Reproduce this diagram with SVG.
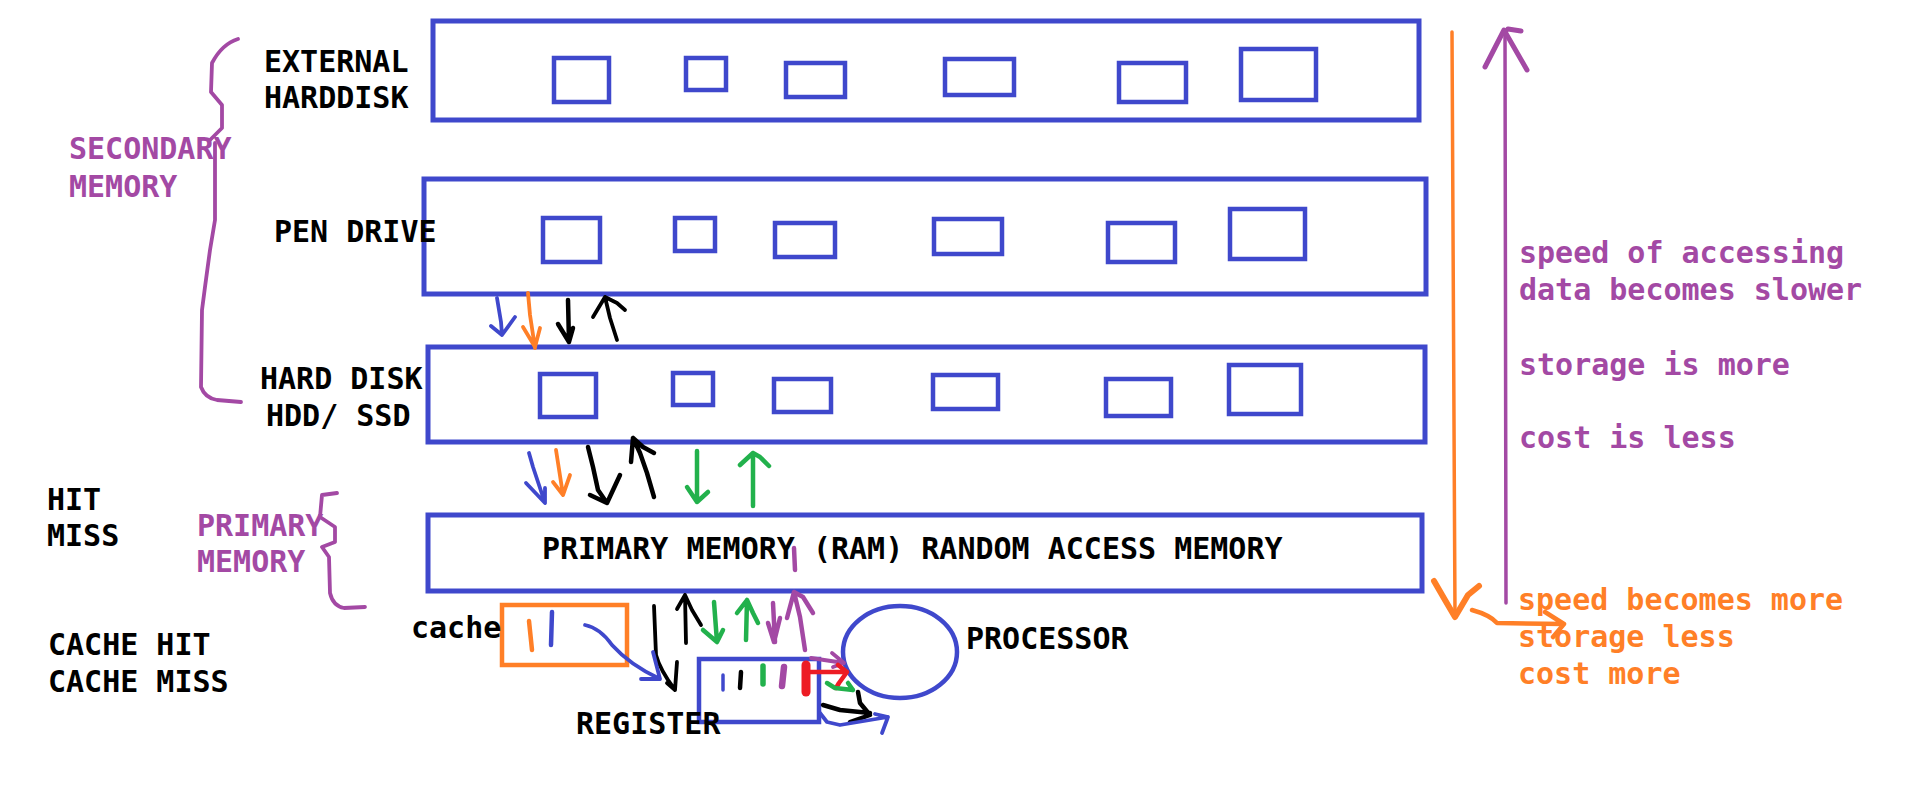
<svg xmlns="http://www.w3.org/2000/svg" width="1914" height="806" viewBox="0 0 1914 806">
<style>
text{font-family:"DejaVu Sans Mono","Liberation Mono",monospace;font-weight:bold;font-size:30px;}
.k{fill:#000}
.p{fill:#A349A4}
.o{fill:#FF7F27}
.box{fill:none;stroke:#3F48CC;stroke-width:5}
.cell{fill:none;stroke:#3F48CC;stroke-width:4.5}
.s{fill:none;stroke-linecap:round;stroke-linejoin:round;stroke-width:3.8}
.bl{stroke:#3F48CC}
.or{stroke:#FF7F27}
.bk{stroke:#000}
.gr{stroke:#22B14C}
.pu{stroke:#A349A4}
.rd{stroke:#ED1C24}
</style>
<rect width="1914" height="806" fill="#fff"/>

<g id="external-harddisk">
<rect class="box" x="433" y="21" width="986" height="99"/>
<rect class="cell" x="554" y="58" width="55" height="44"/>
<rect class="cell" x="686" y="58" width="40" height="32"/>
<rect class="cell" x="786" y="63" width="59" height="34"/>
<rect class="cell" x="945" y="59" width="69" height="36"/>
<rect class="cell" x="1119" y="63" width="67" height="39"/>
<rect class="cell" x="1241" y="49" width="75" height="51"/>
<text class="k" x="264" y="72">EXTERNAL</text>
<text class="k" x="264" y="108">HARDDISK</text>
</g>

<g id="pen-drive">
<rect class="box" x="424" y="179" width="1002" height="115"/>
<rect class="cell" x="543" y="218" width="57" height="44"/>
<rect class="cell" x="675" y="218" width="40" height="33"/>
<rect class="cell" x="775" y="223" width="60" height="34"/>
<rect class="cell" x="934" y="219" width="68" height="35"/>
<rect class="cell" x="1108" y="223" width="67" height="39"/>
<rect class="cell" x="1230" y="209" width="75" height="50"/>
<text class="k" x="274" y="242">PEN DRIVE</text>
</g>

<g id="hard-disk">
<rect class="box" x="428" y="347" width="997" height="95"/>
<rect class="cell" x="540" y="374" width="56" height="43"/>
<rect class="cell" x="673" y="373" width="40" height="32"/>
<rect class="cell" x="774" y="379" width="57" height="33"/>
<rect class="cell" x="933" y="375" width="65" height="34"/>
<rect class="cell" x="1106" y="379" width="65" height="37"/>
<rect class="cell" x="1229" y="365" width="72" height="49"/>
<text class="k" x="260" y="389">HARD DISK</text>
<text class="k" x="266" y="426">HDD/ SSD</text>
</g>

<g id="primary-memory">
<rect class="box" x="428" y="515" width="994" height="76"/>
<text class="k" x="542" y="559">PRIMARY MEMORY (RAM) RANDOM ACCESS MEMORY</text>
</g>

<g id="cache">
<rect fill="none" stroke="#FF7F27" stroke-width="4.5" x="502" y="605" width="125" height="60"/>
<path class="s or" d="M529,621 L532,650" style="stroke-width:4.5"/>
<path class="s bl" d="M552,612 L551,645" style="stroke-width:4.5"/>
<text class="k" x="411" y="638">cache</text>
</g>

<g id="register">
<rect class="cell" x="699" y="659" width="120" height="63"/>
<path class="s bl" d="M723,675 L723,690" style="stroke-width:3.5"/>
<path class="s bk" d="M741,672 L740,688" style="stroke-width:4.5"/>
<path class="s gr" d="M763,666 L763,684" style="stroke-width:5.5"/>
<path class="s pu" d="M784,667 L782,686" style="stroke-width:6.5"/>
<path class="s rd" d="M806,665 L806,692" style="stroke-width:9"/>
<text class="k" x="576" y="734">REGISTER</text>
</g>

<g id="processor">
<ellipse cx="900" cy="652" rx="57" ry="46" fill="none" stroke="#3F48CC" stroke-width="4.5"/>
<text class="k" x="966" y="649">PROCESSOR</text>
</g>

<g id="secondary-memory-label">
<path class="s pu" d="M238,39 Q222,44 212,63 L211,92 L222,105 L222,128 L210,140 M215,143 L215,220 L210,250 L205,287 L202,310 L201,387 Q205,398 217,400 L241,402"/>
<text class="p" x="69" y="159">SECONDARY</text>
<text class="p" x="69" y="197">MEMORY</text>
</g>

<g id="primary-memory-label">
<path class="s pu" d="M337,493 L322,495 L320,517 L335,527 L335,542 L322,547 L329,557 L330,593 Q333,606 344,608 L365,607"/>
<text class="p" x="197" y="536">PRIMARY</text>
<text class="p" x="197" y="572">MEMORY</text>
</g>

<g id="hit-miss">
<text class="k" x="47" y="510">HIT</text>
<text class="k" x="47" y="546">MISS</text>
<text class="k" x="48" y="655">CACHE HIT</text>
<text class="k" x="48" y="692">CACHE MISS</text>
</g>

<g id="slower-notes">
<text class="p" x="1519" y="263">speed of accessing</text>
<text class="p" x="1519" y="300">data becomes slower</text>
<text class="p" x="1519" y="375">storage is more</text>
<text class="p" x="1519" y="448">cost is less</text>
</g>

<g id="faster-notes">
<text class="o" x="1518" y="610">speed becomes more</text>
<text class="o" x="1518" y="647">storage less</text>
<text class="o" x="1518" y="684">cost more</text>
</g>

<g id="connectors">
<path class="s bl" d="M497,298 L501,322 L502,335 M491,326 L502,335 L515,317"/>
<path class="s or" d="M528,293 L530,315 L535,348 M523,327 L535,347 L540,328"/>
<path class="s bk" d="M568,300 L569,342 M558,324 L569,342 L573,328" style="stroke-width:4.5"/>
<path class="s bk" d="M617,340 L610,318 L605,297 M593,317 L605,297 L617,303 L625,310"/>
<path class="s bl" d="M529,453 L533,467 L545,503 M526,483 L545,503 L545,488"/>
<path class="s or" d="M556,450 L563,495 M553,482 L563,495 L570,475"/>
<path class="s bk" d="M588,447 L593,467 L598,490 L607,503 M590,495 L607,503 L620,475" style="stroke-width:4.5"/>
<path class="s bk" d="M654,497 L647,473 L640,453 L633,438 M631,462 L633,438 L643,447 L654,453" style="stroke-width:4.5"/>
<path class="s gr" d="M697,451 L697,502 M687,487 L697,502 L708,492" style="stroke-width:4.5"/>
<path class="s gr" d="M753,506 L753,453 M740,465 L753,453 L760,457 L769,466" style="stroke-width:4.5"/>
<path class="s bk" d="M654,606 L656,655 Q660,670 675,690 M677,662 L675,690 L667,683"/>
<path class="s bl" d="M585,625 Q600,628 612,645 Q630,665 660,679 M641,679 L660,679 L653,652"/>
<path class="s bk" d="M686,643 L685,595 M677,609 L685,595 L692,610 L701,625"/>
<path class="s gr" d="M714,602 L717,642 M703,630 L717,642 L723,630" style="stroke-width:4.5"/>
<path class="s gr" d="M746,640 L747,600 M737,613 L747,600 L753,613 L758,623" style="stroke-width:4.5"/>
<path class="s pu" d="M773,603 L775,642 M768,623 L774,642 L780,618" style="stroke-width:4.5"/>
<path class="s pu" d="M805,650 L800,617 L794,592 M787,618 L794,592 L803,597 L813,613" style="stroke-width:4.5"/>
<path class="s pu" d="M794,548 L795,570" style="stroke-width:4.5"/>
<path class="s pu" d="M811,658 L844,663 M832,653 L844,663 L833,667"/>
<path class="s rd" d="M810,672 L847,672 M838,665 L847,672 L839,683 L836,688" style="stroke-width:4.5"/>
<path class="s gr" d="M827,683 L835,688 L853,690 M848,683 L853,690" style="stroke-width:4.5"/>
<path class="s bk" d="M823,705 L840,710 L870,713 M858,692 L860,703 L870,715 L850,722" style="stroke-width:4.5"/>
<path class="s bl" d="M820,713 L827,722 L840,725 L888,717 M875,714 L888,717 L882,733"/>
<path class="s or" d="M1452,32 L1455,617" style="stroke-width:3.5"/>
<path class="s or" d="M1434,581 L1445,600 L1455,617 L1468,595 L1479,586" style="stroke-width:6"/>
<path class="s or" d="M1472,610 Q1490,615 1497,623 L1564,624 M1545,612 L1564,624 L1553,637" style="stroke-width:4.5"/>
<path class="s pu" d="M1506,603 L1505,32" style="stroke-width:3.5"/>
<path class="s pu" d="M1485,67 L1504,30 L1527,70 M1508,29 L1521,31" style="stroke-width:5"/>
</g>
</svg>
